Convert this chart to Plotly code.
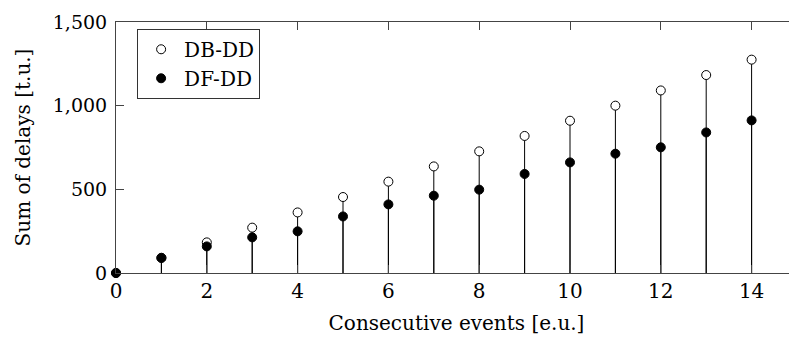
import plotly.graph_objects as go

events = list(range(16))
db_dd = [0, 91, 183, 271, 362, 454, 546, 637, 727, 819, 910, 1000, 1091, 1183, 1275, 1366]
df_dd = [0, 90, 159, 213, 249, 338, 410, 462, 498, 592, 661, 713, 751, 840, 912, 966]

x_ticks = [0, 2, 4, 6, 8, 10, 12, 14]
y_ticks = [0, 500, 1000, 1500]
x_range = [0, 15.0]
y_range = [0, 1500]

FONT = "DejaVu Serif"
AX = "#444444"

fig = go.Figure()

fig.add_trace(go.Scatter(
    x=events, y=db_dd, mode="markers", name="DB-DD",
    marker=dict(symbol="circle", size=9, color="white", line=dict(color="black", width=1)),
    error_y=dict(type="data", symmetric=False, array=[0] * len(db_dd), arrayminus=db_dd,
                 color="black", thickness=1, width=0),
    cliponaxis=False,
))
fig.add_trace(go.Scatter(
    x=events, y=df_dd, mode="markers", name="DF-DD",
    marker=dict(symbol="circle", size=9, color="black", line=dict(color="black", width=1)),
    error_y=dict(type="data", symmetric=False, array=[0] * len(df_dd), arrayminus=df_dd,
                 color="black", thickness=1, width=0),
    cliponaxis=False,
))
# invisible trace carrying the mirrored top/right tick axes
fig.add_trace(go.Scatter(
    x=events, y=db_dd, mode="markers", xaxis="x2", yaxis="y2",
    marker=dict(opacity=0), showlegend=False, hoverinfo="skip",
))

common = dict(showgrid=False, zeroline=False, ticks="inside", ticklen=8,
              tickcolor=AX, tickwidth=1, linecolor=AX, linewidth=1, automargin=False)

fig.update_layout(
    template="none",
    width=789, height=327,
    margin=dict(l=108, r=0, t=14, b=62, pad=0),
    paper_bgcolor="white", plot_bgcolor="white",
    font=dict(family=FONT, size=20, color="black"),
    showlegend=True,
    legend=dict(x=0.031, y=0.973, xanchor="left", yanchor="top",
                bgcolor="white", bordercolor="#333333", borderwidth=1,
                font=dict(family=FONT, size=20, color="black"), tracegroupgap=0,
                itemwidth=36),
    xaxis=dict(range=x_range, tickvals=x_ticks, showline=True,
               title=dict(text="Consecutive events [e.u.]", standoff=17,
                          font=dict(family=FONT, size=20)),
               ticklabelstandoff=0, tickfont=dict(family=FONT, size=20), **common),
    yaxis=dict(range=y_range, tickvals=y_ticks, tickformat=",d", showline=True,
               title=dict(text="Sum of delays [t.u.]", standoff=16,
                          font=dict(family=FONT, size=20)),
               ticklabelstandoff=4, tickfont=dict(family=FONT, size=19), **common),
    xaxis2=dict(range=x_range, tickvals=x_ticks, overlaying="x", side="top",
                anchor="y", showline=True, showticklabels=False, **common),
    yaxis2=dict(range=y_range, tickvals=[500, 1000], overlaying="y", side="right",
                anchor="x", showline=False, showticklabels=False, **common),
)

fig.write_html("out.html")
